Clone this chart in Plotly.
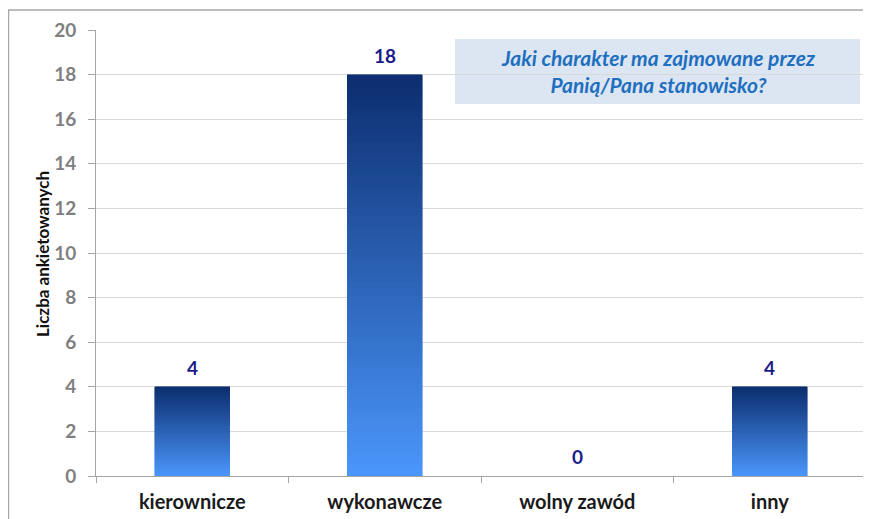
import plotly.graph_objects as go

categories = ["kierownicze", "wykonawcze", "wolny zawód", "inny"]
values = [4, 18, 0, 4]
y_ticks = [0, 2, 4, 6, 8, 10, 12, 14, 16, 18, 20]
title_text = "Jaki charakter ma zajmowane przez<br>Panią/Pana stanowisko?"
y_title = "Liczba ankietowanych"

top_rgb = (13, 46, 112)
bot_rgb = (74, 150, 250)
N = 60

# page offset from default body margin
OFF = 8
W, H = 871 - OFF, 519 - OFF
PL, PR, PT, PB = 96 - OFF, 866 - OFF, 30 - OFF, 476 - OFF
PW, PH = PR - PL, PB - PT

def px(x):
    return (x - OFF - PL) / PW

def py(y):
    return (PB - (y - OFF)) / PH

fig = go.Figure()
for k in range(N):
    t = k / (N - 1)  # 0 bottom -> 1 top
    c = tuple(int(round(bot_rgb[i] + (top_rgb[i] - bot_rgb[i]) * t)) for i in range(3))
    col = "rgb(%d,%d,%d)" % c
    fig.add_trace(go.Bar(
        x=categories, y=[v / N for v in values],
        marker=dict(color=col, line=dict(color=col, width=0.6)),
        width=0.39, showlegend=False, hoverinfo="skip"))

annotations = [
    dict(text=str(v), x=c, y=v, xref="x", yref="y", showarrow=False,
         xanchor="center", yanchor="bottom", yshift=6,
         font=dict(family="Lato", size=19, color="#1c1c8a", weight="bold"))
    for c, v in zip(categories, values)
]
annotations += [
    dict(text=title_text, xref="paper", yref="paper", x=px(658), y=py(71.5),
         showarrow=False, xanchor="center", yanchor="middle",
         font=dict(family="Lato", size=21, color="#1f6fc0", style="italic", weight="bold"), align="center"),
    dict(text=y_title, xref="paper", yref="paper", x=px(42), y=py(254), textangle=-90,
         showarrow=False, xanchor="center", yanchor="middle",
         font=dict(family="Lato", size=17, color="#111", weight="bold")),
]

fig.update_layout(
    width=W, height=H,
    margin=dict(l=PL, r=W - PR, t=PT, b=H - PB),
    paper_bgcolor="white", plot_bgcolor="white",
    barmode="stack", bargap=0.61,
    font=dict(family="Lato"),
    xaxis=dict(
        type="category", showgrid=False, showline=True, linecolor="#a6a6a6", linewidth=1,
        ticks="outside", tickson="boundaries", ticklen=6, tickcolor="#a6a6a6",
        tickfont=dict(family="Lato", size=20, color="#1a1a1a", weight="bold"),
        ticklabelstandoff=8, automargin=False,
    ),
    yaxis=dict(
        range=[0, 20], tickvals=y_ticks, showgrid=True, gridcolor="#d9d9d9",
        showline=True, linecolor="#a6a6a6", linewidth=1, zeroline=False,
        ticks="outside", ticklen=7, tickcolor="#a6a6a6",
        tickfont=dict(family="Lato", size=19, color="#7f7f7f", weight="bold"),
        ticklabelstandoff=8, automargin=False,
    ),
    shapes=[
        dict(type="line", xref="paper", yref="paper", x0=px(8), x1=px(866), y0=py(10), y1=py(10),
             line=dict(color="#a6a6a6", width=1.5)),
        dict(type="line", xref="paper", yref="paper", x0=px(8.5), x1=px(8.5), y0=py(10), y1=py(530),
             line=dict(color="#a6a6a6", width=1.5)),
        dict(type="rect", xref="paper", yref="paper", x0=px(455), x1=px(860),
             y0=py(104), y1=py(39), fillcolor="#dce6f2", line=dict(width=0), layer="below"),
    ],
    annotations=annotations,
)

fig.write_html("out.html")
